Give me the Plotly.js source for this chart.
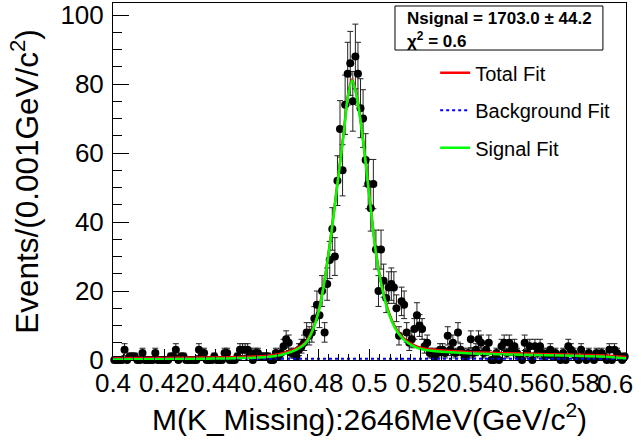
<!DOCTYPE html>
<html>
<head>
<meta charset="utf-8">
<script src="https://cdn.plot.ly/plotly-3.0.1.min.js"></script>
<style>
  html, body { margin: 0; padding: 0; background: #ffffff; }
  #chart { width: 642px; height: 443px; }
</style>
</head>
<body>
<div id="chart"></div>
<script>
// ---- histogram binning ----
const binLow = 0.4;
const binWidth = 0.001;

// ---- event counts per bin (200 bins, 0.400 - 0.600) ----
const counts = [
  0,0,0,0,3,0,1,1,1,0,
  0,2,0,0,0,0,2,0,0,0,
  0,0,1,1,3,0,1,1,0,0,
  0,0,0,3,1,2,0,0,0,1,
  0,0,0,2,2,0,0,0,1,3,
  3,3,3,2,0,2,2,1,1,1,
  1,0,0,2,1,2,4,6,5,2,
  2,1,3,4,5,8,7,8,12,16,
  13,20,8,22,29,38,30,52,67,55,
  74,83,86,75,88,83,73,70,58,51,
  44,51,32,20,32,23,18,21,22,21,
  15,7,17,16,8,5,6,9,13,10,
  9,4,5,2,2,1,2,3,3,2,
  7,3,5,2,8,3,2,1,2,6,
  2,3,6,5,2,3,5,0,0,2,
  0,4,5,2,5,3,4,2,1,0,
  5,2,4,0,4,2,4,2,1,2,
  3,1,2,1,0,2,0,4,3,2,
  1,0,3,1,0,2,1,0,2,1,
  2,1,0,3,0,3,2,1,0,1
];
const binCenters = counts.map((_, i) => binLow + binWidth * (i + 0.5));

// ---- fit curves ----
const fitX = [0.400,0.410,0.420,0.430,0.440,0.450,0.455,0.460,0.465,0.470,
              0.4725,0.475,0.4775,0.480,0.4825,0.485,0.4875,0.490,0.4915,0.4932,
              0.495,0.4975,0.500,0.5025,0.505,0.5075,0.510,0.5125,0.515,0.5175,
              0.520,0.525,0.530,0.540,0.550,0.560,0.570,0.580,0.590,0.595,0.600];
const signalFit = [0.15,0.2,0.25,0.3,0.4,0.55,0.65,0.85,1.4,2.5,
                   3.4,4.8,8,13.5,23,36,51,66,76,81,
                   76.5,63.5,47,31,20.5,13.5,9.2,6.6,4.9,3.9,
                   3.2,2.6,2.3,1.9,1.7,1.5,1.35,1.2,1.0,0.8,0.5];
const totalFit = [0.5,0.55,0.6,0.65,0.75,0.9,1.0,1.2,1.75,2.85,
                  3.75,5.15,8.35,13.85,23.35,36.35,51.35,66.35,76.35,81.35,
                  76.85,63.85,47.35,31.35,20.85,13.85,9.55,6.95,5.25,4.25,
                  3.55,2.95,2.65,2.25,2.05,1.85,1.7,1.55,1.35,1.15,0.85];
const bgX = [0.400, 0.500, 0.600];
const bgFit = [0.35, 0.35, 0.33];

// ---- axis tick labels ----
const xTickVals = [0.40,0.42,0.44,0.46,0.48,0.50,0.52,0.54,0.56,0.58,0.60];
const xTickText = ["0.4","0.42","0.44","0.46","0.48","0.5","0.52","0.54","0.56","0.58",""];
const xLastLabel = "0.6";
const yTickVals = [0,20,40,60,80,100];
const yTickText = ["0","20","40","60","80","100"];

const FONT = "Liberation Sans, Arial, Helvetica, sans-serif";

const traces = [
  {
    x: binCenters, y: counts, type: "scatter", mode: "markers",
    marker: { color: "#000000", size: 8 },
    error_y: { type: "sqrt", visible: true, color: "#222222", thickness: 1, width: 3 },
    cliponaxis: false, showlegend: false, hoverinfo: "x+y"
  },
  {
    x: fitX, y: totalFit, type: "scatter", mode: "lines", name: "Total Fit",
    line: { color: "#ff0000", width: 2.5, shape: "spline", smoothing: 0.8 },
    legendgroup: "a"
  },
  {
    x: bgX, y: bgFit, type: "scatter", mode: "lines", name: "Background Fit",
    line: { color: "#0000ff", width: 2, dash: "dot" },
    legendgroup: "b"
  },
  {
    x: fitX, y: signalFit, type: "scatter", mode: "lines", name: "Signal Fit",
    line: { color: "#00ff00", width: 2.5, shape: "spline", smoothing: 0.8 },
    legendgroup: "c"
  }
];

const layout = {
  width: 642, height: 443,
  margin: { l: 113, r: 16, t: 3, b: 83 },
  paper_bgcolor: "#ffffff", plot_bgcolor: "#ffffff",
  font: { family: FONT, color: "#000000" },
  showlegend: true,
  legend: {
    x: 0.628, y: 0.859, xanchor: "left", yanchor: "top",
    bgcolor: "rgba(0,0,0,0)", borderwidth: 0,
    font: { family: FONT, size: 20, color: "#000000" },
    tracegroupgap: 8.5, traceorder: "grouped"
  },
  xaxis: {
    range: [0.4, 0.6],
    tickmode: "array", tickvals: xTickVals, ticktext: xTickText,
    tickangle: 0,
    ticks: "inside", ticklen: 11, tickcolor: "#000000",
    minor: { dtick: 0.004, ticks: "inside", ticklen: 6, tickcolor: "#000000" },
    showline: true, linecolor: "#000000", linewidth: 1, mirror: true,
    showgrid: false, zeroline: false,
    tickfont: { family: FONT, size: 26 },
    title: { text: "M(K_Missing):2646MeV(GeV/c<sup>2</sup>)", font: { family: FONT, size: 30 }, standoff: 6 }
  },
  yaxis: {
    range: [0, 103.5],
    tickmode: "array", tickvals: yTickVals, ticktext: yTickText,
    ticks: "inside", ticklen: 16, tickcolor: "#000000",
    minor: { dtick: 5, ticks: "inside", ticklen: 9, tickcolor: "#000000" },
    showline: true, linecolor: "#000000", linewidth: 1, mirror: true,
    showgrid: false, zeroline: false,
    tickfont: { family: FONT, size: 26 },
    ticklabelstandoff: 3,
    title: { text: "Events/(0.001GeV/c<sup>2</sup>)", font: { family: FONT, size: 31.5 }, standoff: 12 }
  },
  shapes: [
    { type: "rect", xref: "paper", yref: "paper",
      x0: 0.5497, x1: 0.955, y0: 0.8683, y1: 0.9916,
      line: { color: "#000000", width: 1 }, fillcolor: "#ffffff", layer: "above" }
  ],
  annotations: [
    { xref: "paper", yref: "paper", x: 0.569, y: 0.9566, xanchor: "left", yanchor: "middle",
      showarrow: false, text: "<b>Nsignal = 1703.0 ± 44.2</b>",
      font: { family: FONT, size: 17, color: "#000000" } },
    { xref: "paper", yref: "paper", x: 0.569, y: 0.8964, xanchor: "left", yanchor: "middle",
      showarrow: false, text: "<b>χ<sup>2</sup> = 0.6</b>",
      font: { family: FONT, size: 17, color: "#000000" } },
    { xref: "x", yref: "paper", x: 0.6, y: 0, xanchor: "right", yanchor: "top",
      xshift: 9, yshift: -7, showarrow: false, text: xLastLabel,
      font: { family: FONT, size: 26, color: "#000000" } }
  ]
};

Plotly.newPlot("chart", traces, layout, { displayModeBar: false, staticPlot: true });
</script>
</body>
</html>
